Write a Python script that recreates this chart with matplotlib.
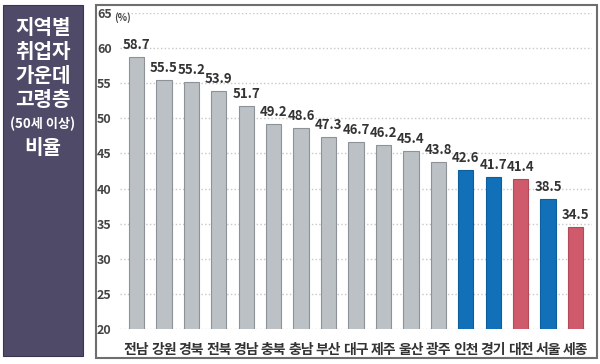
import matplotlib.pyplot as plt
from matplotlib.patches import Rectangle

plt.rcParams['font.family'] = ['Noto Sans CJK KR', 'DejaVu Sans']

regions = ['전남', '강원', '경북', '전북', '경남', '충북', '충남', '부산', '대구', '제주',
           '울산', '광주', '인천', '경기', '대전', '서울', '세종']
values = [58.7, 55.5, 55.2, 53.9, 51.7, 49.2, 48.6, 47.3, 46.7, 46.2, 45.4, 43.8,
          42.6, 41.7, 41.4, 38.5, 34.5]
groups = ['g'] * 12 + ['b', 'b', 'r', 'b', 'r']
yticks = [20, 25, 30, 35, 40, 45, 50, 55, 60, 65]

fill = {'g': '#bcc1c5', 'b': '#1170b8', 'r': '#cf5a6b'}
edge = {'g': '#8c9297', 'b': '#0d5e9c', 'r': '#b34a5a'}

fig = plt.figure(figsize=(6, 3.64), dpi=100)

# left title panel
fig.patches.append(Rectangle((3 / 600, 1 - 356 / 364), 80 / 600, 351 / 364,
                             transform=fig.transFigure, facecolor='#4f4a68',
                             edgecolor='#3a3650', lw=0.8, zorder=-2))
title_lines = [('지역별', 27, 14.5), ('취업자', 51, 14.5), ('가운데', 76, 14.5),
               ('고령층', 100, 14.5), ('(50세 이상)', 124, 9.5), ('비율', 148, 14.5)]
for txt, y, fs in title_lines:
    fig.text(43 / 600, 1 - y / 364, txt, color='white', fontsize=fs,
             fontweight='bold', ha='center', va='center')

# chart frame
fig.patches.append(Rectangle((96 / 600, 1 - 358 / 364), 501 / 600, 353 / 364,
                             transform=fig.transFigure, facecolor='white',
                             edgecolor='#6e6e6e', lw=1.5, zorder=-2))

ax = fig.add_axes([120 / 600, 1 - 329 / 364, 472 / 600, 316 / 364])
ax.set_facecolor('none')
x = range(len(regions))
ax.bar(x, values, width=0.56, bottom=0,
       color=[fill[g] for g in groups], edgecolor=[edge[g] for g in groups],
       lw=0.8, zorder=3)
for i, v in enumerate(values):
    ax.text(i, v + 0.7, f'{v}', ha='center', va='bottom', fontsize=9.5,
            fontweight='bold', color='#333333')
ax.set_ylim(20, 65)
ax.set_xlim(-0.6, len(regions) - 0.4)
ax.set_yticks(yticks)
ax.set_yticklabels([str(t) for t in yticks], fontsize=9, fontweight='bold', color='#444444')
ax.set_xticks(list(x))
ax.set_xticklabels(regions, fontsize=10, fontweight='bold', color='#333333')
ax.tick_params(length=0)
ax.tick_params(axis='y', pad=6)
ax.tick_params(axis='x', pad=10)
ax.grid(axis='y', ls=':', color='#c8c8c8', lw=1, zorder=0)
for s in ax.spines.values():
    s.set_visible(False)
ax.text(-0.8, 64.3, '(%)', fontsize=7, fontweight='bold', color='#444444',
        ha='left', va='center')

fig.savefig('out.png', dpi=100)
